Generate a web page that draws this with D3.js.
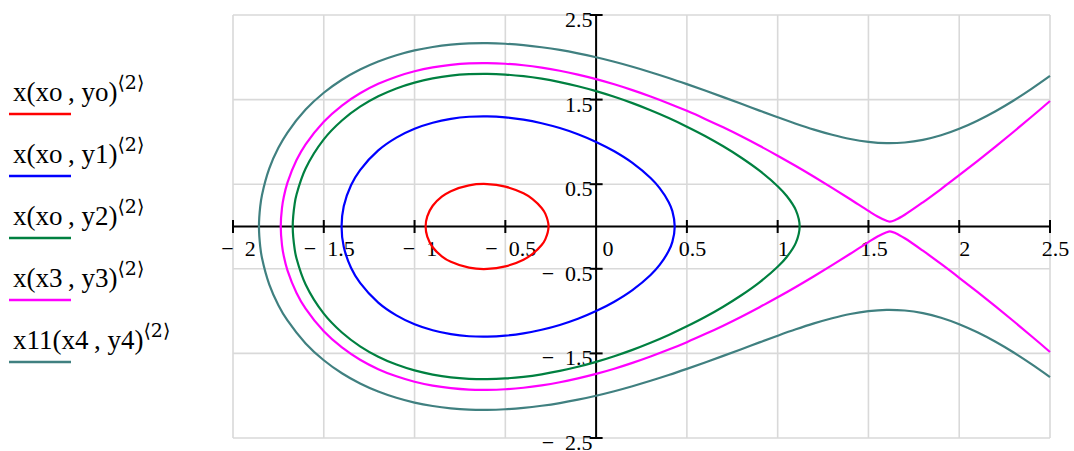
<!DOCTYPE html>
<html>
<head>
<meta charset="utf-8">
<script src="https://cdn.jsdelivr.net/npm/d3@7"></script>
<style>
  html, body { margin: 0; padding: 0; background: #fff; }
  svg { display: block; }
  text { font-family: "Liberation Serif", "Times New Roman", serif; fill: #000; }
</style>
</head>
<body>
<svg id="chart" width="1074" height="451"></svg>
<script>
// Axis ticks
const xTicks = [-2, -1.5, -1, -0.5, 0, 0.5, 1, 1.5, 2, 2.5];
const xGrid = [-2, -1.5, -1, -0.5, 0, 0.5, 1, 1.5, 2, 2.5];
const yTicks = [2.5, 1.5, 0.5, -0.5, -1.5, -2.5];

// Legend entries
const legendNames = ["x(xo\u2009, yo)", "x(xo\u2009, y1)", "x(xo\u2009, y2)", "x(x3\u2009, y3)", "x11(x4\u2009, y4)"];
const legendColors = ["#ff0000", "#0000ff", "#008040", "#ff00ff", "#408080"];

// Trajectories: x positions and upper-half y values (curves are symmetric about y = 0)
const redX = [-0.939, -0.93, -0.9, -0.85, -0.8, -0.7, -0.6, -0.5, -0.4, -0.35, -0.3, -0.28, -0.262];
const redY = [0, 0.12, 0.245, 0.352, 0.418, 0.487, 0.502, 0.472, 0.392, 0.324, 0.219, 0.152, 0];

const blueX = [-1.402, -1.39, -1.35, -1.3, -1.2, -1.1, -1.0, -0.9, -0.8, -0.7, -0.6, -0.5, -0.4, -0.3, -0.2, -0.1, 0, 0.1, 0.2, 0.3, 0.35, 0.4, 0.42, 0.433];
const blueY = [0, 0.24, 0.487, 0.667, 0.899, 1.05, 1.155, 1.226, 1.272, 1.297, 1.302, 1.291, 1.264, 1.221, 1.164, 1.091, 1.0, 0.889, 0.752, 0.573, 0.454, 0.288, 0.182, 0];

const greenX = [-1.671, -1.66, -1.65, -1.6, -1.5, -1.4, -1.3, -1.2, -1.1, -1.0, -0.9, -0.8, -0.7, -0.6, -0.5, -0.4, -0.3, -0.2, -0.1, 0, 0.1, 0.2, 0.3, 0.4, 0.5, 0.6, 0.7, 0.8, 0.9, 1.0, 1.05, 1.1, 1.121];
const greenY = [0, 0.274, 0.378, 0.685, 1.03, 1.253, 1.416, 1.539, 1.632, 1.701, 1.75, 1.783, 1.8, 1.804, 1.796, 1.777, 1.747, 1.707, 1.658, 1.6, 1.533, 1.458, 1.374, 1.282, 1.18, 1.07, 0.948, 0.813, 0.66, 0.476, 0.36, 0.193, 0];

const magentaX = [-1.737, -1.73, -1.72, -1.7, -1.65, -1.6, -1.5, -1.4, -1.3, -1.2, -1.1, -1.0, -0.9, -0.8, -0.7, -0.6, -0.5, -0.4, -0.3, -0.2, -0.1, 0, 0.1, 0.2, 0.3, 0.4, 0.5, 0.6, 0.7, 0.8, 0.9, 1.0, 1.1, 1.2, 1.3, 1.4, 1.5, 1.55, 1.6, 1.618, 1.65, 1.7, 1.8, 1.9, 2.0, 2.1, 2.2, 2.3, 2.4, 2.5];
const magentaY = [0, 0.222, 0.351, 0.518, 0.785, 0.971, 1.239, 1.43, 1.575, 1.686, 1.771, 1.835, 1.881, 1.911, 1.928, 1.931, 1.924, 1.906, 1.878, 1.841, 1.795, 1.742, 1.681, 1.612, 1.537, 1.455, 1.367, 1.272, 1.172, 1.066, 0.954, 0.837, 0.715, 0.588, 0.457, 0.322, 0.184, 0.119, 0.068, 0.057, 0.079, 0.139, 0.286, 0.443, 0.606, 0.773, 0.945, 1.12, 1.3, 1.483];

const tealX = [-1.857, -1.85, -1.84, -1.8, -1.75, -1.7, -1.6, -1.5, -1.4, -1.3, -1.2, -1.1, -1.0, -0.9, -0.8, -0.7, -0.6, -0.5, -0.4, -0.3, -0.2, -0.1, 0, 0.1, 0.2, 0.3, 0.4, 0.5, 0.6, 0.7, 0.8, 0.9, 1.0, 1.1, 1.2, 1.3, 1.4, 1.5, 1.6, 1.7, 1.8, 1.9, 2.0, 2.1, 2.2, 2.3, 2.4, 2.5];
const tealY = [0, 0.237, 0.376, 0.687, 0.93, 1.111, 1.382, 1.581, 1.735, 1.856, 1.951, 2.025, 2.082, 2.122, 2.149, 2.164, 2.167, 2.16, 2.144, 2.119, 2.087, 2.047, 2.0, 1.947, 1.888, 1.824, 1.756, 1.683, 1.607, 1.529, 1.45, 1.37, 1.291, 1.215, 1.145, 1.084, 1.034, 1.0, 0.985, 0.993, 1.024, 1.078, 1.155, 1.251, 1.363, 1.49, 1.63, 1.78];

const W = 1074, H = 451;
const plot = { left: 233, right: 1050, top: 15, bottom: 438 };

const svg = d3.select("#chart");
const x = d3.scaleLinear().domain([-2, 2.5]).range([plot.left, plot.right]);
const y = d3.scaleLinear().domain([-2.5, 2.5]).range([plot.bottom, plot.top]);

svg.append("rect").attr("width", W).attr("height", H).attr("fill", "#fff");

svg.append("defs").append("clipPath").attr("id", "plotClip")
  .append("rect")
  .attr("x", plot.left - 2).attr("y", plot.top - 2)
  .attr("width", plot.right - plot.left + 4).attr("height", plot.bottom - plot.top + 4);

// Grid
const grid = svg.append("g").attr("stroke", "#d9d9d9").attr("stroke-width", 1.6);
grid.selectAll("line.vx").data(xGrid).join("line")
  .attr("x1", d => x(d)).attr("x2", d => x(d))
  .attr("y1", y(2.5)).attr("y2", y(-2.5));
grid.selectAll("line.hy").data(yTicks).join("line")
  .attr("x1", x(-2)).attr("x2", x(2.5))
  .attr("y1", d => y(d)).attr("y2", d => y(d));

// Axes through the origin
const axes = svg.append("g").attr("stroke", "#000").attr("stroke-width", 2);
axes.append("line").attr("x1", x(-2)).attr("x2", x(2.5)).attr("y1", y(0)).attr("y2", y(0));
axes.append("line").attr("x1", x(0)).attr("x2", x(0)).attr("y1", y(2.5)).attr("y2", y(-2.5));
axes.selectAll("line.xt").data(xTicks.filter(d => d !== 0)).join("line")
  .attr("x1", d => x(d)).attr("x2", d => x(d))
  .attr("y1", y(0) - 6.5).attr("y2", y(0) + 6.5);
axes.selectAll("line.yt").data(yTicks).join("line")
  .attr("x1", x(0) - 6.5).attr("x2", x(0) + 6.5)
  .attr("y1", d => y(d)).attr("y2", d => y(d));

const fmt = d => (d < 0 ? "\u2212\u2002" : "") + String(Math.abs(d));

// Tick labels
svg.append("g").selectAll("text").data(xTicks).join("text")
  .attr("x", d => x(d) + (d === 0 ? 12 : 5.5))
  .attr("y", y(0) + 29.5)
  .attr("text-anchor", "middle")
  .attr("font-size", 22)
  .text(fmt);

svg.append("g").selectAll("text").data(yTicks).join("text")
  .attr("x", x(0) - 3.5)
  .attr("y", d => y(d) + 12)
  .attr("text-anchor", "end")
  .attr("font-size", 22)
  .text(fmt);

// Curves
const line = d3.line().x(d => x(d[0])).y(d => y(d[1]));

function closedLoop(xs, ys) {
  const upper = xs.map((v, i) => [v, ys[i]]);
  const lower = xs.slice(1, -1).map((v, i) => [v, -ys[i + 1]]).reverse();
  return upper.concat(lower);
}
function openBranch(xs, ys) {
  const upper = xs.map((v, i) => [v, ys[i]]).reverse();
  const lower = xs.slice(1).map((v, i) => [v, -ys[i + 1]]);
  return upper.concat(lower);
}

const curves = [
  { pts: closedLoop(redX, redY), closed: true, color: legendColors[0] },
  { pts: closedLoop(blueX, blueY), closed: true, color: legendColors[1] },
  { pts: closedLoop(greenX, greenY), closed: true, color: legendColors[2] },
  { pts: openBranch(magentaX, magentaY), closed: false, color: legendColors[3] },
  { pts: openBranch(tealX, tealY), closed: false, color: legendColors[4] }
];

svg.append("g").attr("clip-path", "url(#plotClip)")
  .selectAll("path").data(curves).join("path")
  .attr("fill", "none")
  .attr("stroke", d => d.color)
  .attr("stroke-width", 2.2)
  .attr("stroke-linejoin", "round")
  .attr("d", d => line.curve(d.closed ? d3.curveCatmullRomClosed.alpha(0.5) : d3.curveCatmullRom.alpha(0.5))(d.pts));

// Legend
const legend = svg.append("g");
const leg = legend.selectAll("g").data(legendNames).join("g")
  .attr("transform", (d, i) => `translate(0, ${i * 62})`);
const lt = leg.append("text").attr("x", 13).attr("y", 101).attr("font-size", 27);
lt.append("tspan").text(d => d);
lt.append("tspan").attr("dy", -12).attr("font-size", 19)
  .style("font-family", "'DejaVu Serif', 'Liberation Serif', serif")
  .text("\u27E82\u27E9");
leg.append("line")
  .attr("x1", 9).attr("x2", 71).attr("y1", 114).attr("y2", 114)
  .attr("stroke", (d, i) => legendColors[i]).attr("stroke-width", 2.6);
</script>
</body>
</html>
